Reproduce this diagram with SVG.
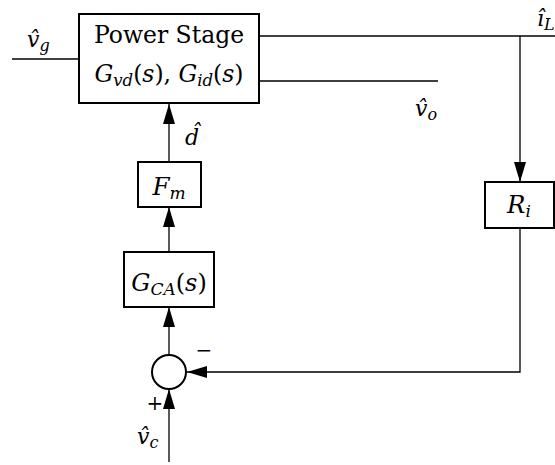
<svg xmlns="http://www.w3.org/2000/svg" width="555" height="465" viewBox="0 0 555 465">
<style>
.box{fill:#fff;stroke:#000;stroke-width:2}
.ln{fill:none;stroke:#000;stroke-width:1.3}
text{font-family:"DejaVu Serif","Liberation Serif",serif;fill:#000}
.i{font-style:italic}
</style>
<defs>
<marker id="ah" viewBox="0 0 20 12" refX="20" refY="6" markerWidth="20" markerHeight="12" markerUnits="userSpaceOnUse" orient="auto">
<path d="M0,0 L20,6 L0,12 Z" fill="#000"/>
</marker>
</defs>
<rect width="555" height="465" fill="#fff"/>
<g id="connectors">
<line class="ln" x1="12" y1="59" x2="79" y2="59"/>
<line class="ln" x1="259" y1="36" x2="555" y2="36"/>
<line class="ln" x1="259" y1="81" x2="438" y2="81"/>
<line class="ln" x1="520" y1="36" x2="520" y2="182" marker-end="url(#ah)"/>
<polyline class="ln" points="520,228 520,372 187,372" marker-end="url(#ah)"/>
<line class="ln" x1="169" y1="462" x2="169" y2="389" marker-end="url(#ah)"/>
<line class="ln" x1="169" y1="355" x2="169" y2="307" marker-end="url(#ah)"/>
<line class="ln" x1="169" y1="252" x2="169" y2="207" marker-end="url(#ah)"/>
<line class="ln" x1="169" y1="162" x2="169" y2="104" marker-end="url(#ah)"/>
</g>
<g id="power-stage">
<rect class="box" x="79" y="14" width="180" height="89"/>
<text x="169" y="43" font-size="23.5" text-anchor="middle">Power Stage</text>
<text x="169" y="82" font-size="23.5" text-anchor="middle"><tspan class="i">G</tspan><tspan class="i" font-size="16.5" dy="4">vd</tspan><tspan dy="-4">(</tspan><tspan class="i">s</tspan>), <tspan class="i">G</tspan><tspan class="i" font-size="16.5" dy="4">id</tspan><tspan dy="-4">(</tspan><tspan class="i">s</tspan>)</text>
</g>
<g id="Fm">
<rect class="box" x="138" y="162" width="63" height="45"/>
<text x="169" y="195" font-size="24.5" text-anchor="middle"><tspan class="i">F</tspan><tspan class="i" font-size="17" dy="4">m</tspan></text>
</g>
<g id="GCA">
<rect class="box" x="124" y="252" width="90" height="55"/>
<text x="169" y="291" font-size="24" text-anchor="middle"><tspan class="i">G</tspan><tspan class="i" font-size="17" dy="4">CA</tspan><tspan dy="-4">(</tspan><tspan class="i">s</tspan>)</text>
</g>
<g id="Ri">
<rect class="box" x="485" y="182" width="69" height="46"/>
<text x="519" y="213" font-size="24.5" text-anchor="middle"><tspan class="i">R</tspan><tspan class="i" font-size="17" dy="4">i</tspan></text>
</g>
<g id="sum">
<circle cx="169" cy="372" r="17" fill="#fff" stroke="#000" stroke-width="2"/>
<text x="155" y="410" font-size="20" text-anchor="middle">+</text>
<text x="204" y="357" font-size="20" text-anchor="middle">−</text>
</g>
<g id="labels">
<text x="27" y="47" font-size="22" class="i">v̂<tspan font-size="16" dy="4">g</tspan></text>
<text x="537" y="26" font-size="22" class="i">î<tspan font-size="16" dy="4">L</tspan></text>
<text x="415" y="116" font-size="22" class="i">v̂<tspan font-size="16" dy="4">o</tspan></text>
<text x="185" y="145" font-size="22" class="i">d̂</text>
<text x="137" y="444" font-size="22" class="i">v̂<tspan font-size="16" dy="4">c</tspan></text>
</g>
</svg>
